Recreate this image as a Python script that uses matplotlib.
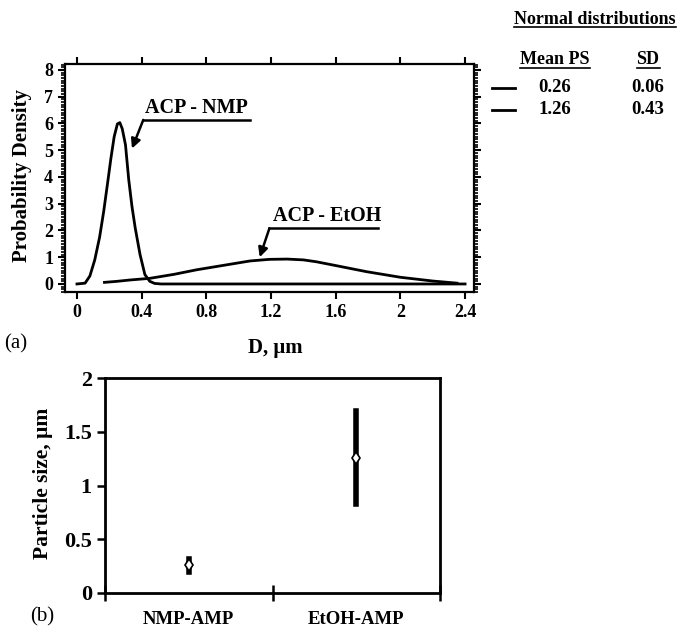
import numpy as np
import matplotlib.pyplot as plt
from matplotlib.lines import Line2D
from matplotlib.ticker import MultipleLocator

plt.rcParams['font.family'] = ['Liberation Serif', 'DejaVu Serif']
plt.rcParams['font.weight'] = 'bold'

# particle size distributions (D in um vs probability density)
nmp_d = [0.0, 0.05, 0.08, 0.11, 0.14, 0.165, 0.19, 0.21, 0.23, 0.25, 0.265,
         0.28, 0.30, 0.32, 0.34, 0.36, 0.39, 0.42, 0.45, 0.48, 0.52, 2.4]
nmp_pd = [0.0, 0.03, 0.3, 0.9, 1.75, 2.7, 3.8, 4.7, 5.5, 5.98, 6.03,
          5.8, 5.2, 3.9, 2.9, 2.1, 1.1, 0.35, 0.1, 0.02, 0.0, 0.0]
etoh_d = [0.17, 0.25, 0.33, 0.45, 0.6, 0.74, 0.85, 0.95, 1.07, 1.19, 1.3,
          1.4, 1.48, 1.59, 1.79, 2.0, 2.2, 2.35]
etoh_pd = [0.06, 0.1, 0.15, 0.21, 0.36, 0.53, 0.64, 0.74, 0.86, 0.92, 0.93,
           0.9, 0.83, 0.70, 0.46, 0.25, 0.11, 0.03]

# normal distribution fits
samples = ['NMP-AMP', 'EtOH-AMP']
mean_ps = [0.26, 1.26]
sd = [0.06, 0.43]

W, H = 680, 628
fig = plt.figure(figsize=(W / 100, H / 100), dpi=100)


def fx(px):
    return px / W


def fy(py):
    return 1 - py / H


# ----- (a) distributions -----
ax1 = fig.add_axes([fx(65), fy(292), fx(474 - 65), (292 - 64) / H])
ax1.plot(nmp_d, nmp_pd, color='black', lw=2)
ax1.plot(etoh_d, etoh_pd, color='black', lw=2)
ax1.set_xlim(-0.074, 2.455)
ax1.set_ylim(-0.3, 8.22)
ax1.set_xticks([0, 0.4, 0.8, 1.2, 1.6, 2, 2.4])
ax1.set_xticklabels(['0', '0.4', '0.8', '1.2', '1.6', '2', '2.4'])
ax1.set_yticks(range(9))
ax1.yaxis.set_minor_locator(MultipleLocator(0.1))
ax1.tick_params(axis='both', which='major', direction='out', length=5,
                width=1.5, labelsize=13, top=True, right=True)
ax1.tick_params(axis='y', which='minor', direction='out', length=3,
                width=1.2, right=True)
for s in ax1.spines.values():
    s.set_linewidth(1.6)

# callouts
ax1.plot([1.07, 0.41], [6.13, 6.13], color='black', lw=1.8)
ax1.annotate('', xy=(0.34, 5.06), xytext=(0.41, 6.13),
             arrowprops=dict(arrowstyle='-|>', color='black', lw=1.8,
                             mutation_scale=14, shrinkA=0, shrinkB=0))
ax1.text(0.42, 6.2, 'ACP - NMP', fontsize=14.5, fontweight='bold', va='bottom')
ax1.plot([1.86, 1.19], [2.08, 2.08], color='black', lw=1.8)
ax1.annotate('', xy=(1.13, 1.0), xytext=(1.19, 2.08),
             arrowprops=dict(arrowstyle='-|>', color='black', lw=1.8,
                             mutation_scale=14, shrinkA=0, shrinkB=0))
ax1.text(1.21, 2.15, 'ACP - EtOH', fontsize=14.5, fontweight='bold', va='bottom')

fig.text(fx(22), fy(175), 'Probability Density', rotation=90, fontsize=15,
         fontweight='bold', ha='center', va='center')
fig.text(fx(275), fy(348), 'D, μm', fontsize=15, fontweight='bold',
         ha='center', va='center')
fig.text(fx(4), fy(344), '(a)', fontsize=15, fontweight='normal',
         ha='left', va='center')

# fit table
underlined = []
underlined.append(fig.text(fx(595), fy(20), 'Normal distributions', fontsize=13,
                           fontweight='bold', ha='center', va='center'))
underlined.append(fig.text(fx(555), fy(60), 'Mean PS', fontsize=13,
                           fontweight='bold', ha='center', va='center'))
underlined.append(fig.text(fx(648), fy(60), 'SD', fontsize=13,
                           fontweight='bold', ha='center', va='center'))
for i, (m, s) in enumerate(zip(mean_ps, sd)):
    ypx = 88 + 22 * i
    fig.text(fx(555), fy(ypx), f'{m:.2f}', fontsize=13.5, fontweight='bold',
             ha='center', va='center')
    fig.text(fx(648), fy(ypx), f'{s:.2f}', fontsize=13.5, fontweight='bold',
             ha='center', va='center')
    fig.add_artist(Line2D([fx(492), fx(515)], [fy(ypx), fy(ypx)],
                          color='black', lw=2))

# ----- (b) mean particle size with SD -----
ax2 = fig.add_axes([fx(105), fy(593), fx(440 - 105), (593 - 378) / H])
pos = [0.5, 1.5]
bars = ax2.errorbar(pos, mean_ps, yerr=sd, fmt='none', ecolor='black',
                    elinewidth=4, capsize=0)
for lc in bars[2]:
    lc.set_capstyle('projecting')
ax2.plot(pos, mean_ps, 'd', markersize=6.5, markerfacecolor='white',
         markeredgecolor='black', markeredgewidth=1.2)
ax2.set_xlim(0, 2)
ax2.set_ylim(0, 2)
ax2.set_yticks([0, 0.5, 1, 1.5, 2])
ax2.set_yticklabels(['0', '0.5', '1', '1.5', '2'])
ax2.set_xticks([0, 1, 2])
ax2.set_xticklabels([])
ax2.set_xticks(pos, minor=True)
ax2.set_xticklabels(samples, minor=True)
ax2.tick_params(axis='x', which='major', direction='inout', length=12,
                width=1.8)
ax2.tick_params(axis='x', which='minor', length=0, labelsize=13.5, pad=13)
ax2.tick_params(axis='y', direction='out', length=6, width=1.8,
                labelsize=16)
for s in ax2.spines.values():
    s.set_linewidth(2)
fig.text(fx(43), fy(483), 'Particle size, μm', rotation=90, fontsize=15.5,
         fontweight='bold', ha='center', va='center')
fig.text(fx(30), fy(617), '(b)', fontsize=15, fontweight='normal',
         ha='left', va='center')

# underline the table headings
fig.canvas.draw()
inv = fig.transFigure.inverted()
for t in underlined:
    bb = t.get_window_extent()
    (x0, y0), (x1, _) = inv.transform([[bb.x0, bb.y0], [bb.x1, bb.y1]])
    fig.add_artist(Line2D([x0, x1], [y0 + 1 / H, y0 + 1 / H],
                          color='black', lw=1.2))

fig.savefig('out.png', dpi=100)
